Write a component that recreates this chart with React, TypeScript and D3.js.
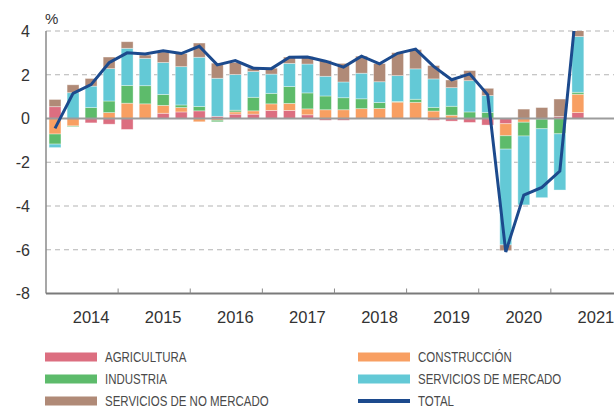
import React from "react";
import * as d3 from "d3";

const quarters = [
  "2014Q1","2014Q2","2014Q3","2014Q4",
  "2015Q1","2015Q2","2015Q3","2015Q4",
  "2016Q1","2016Q2","2016Q3","2016Q4",
  "2017Q1","2017Q2","2017Q3","2017Q4",
  "2018Q1","2018Q2","2018Q3","2018Q4",
  "2019Q1","2019Q2","2019Q3","2019Q4",
  "2020Q1","2020Q2","2020Q3","2020Q4",
  "2021Q1","2021Q2",
];
const axisQuarters = [...quarters, "2021Q3", "2021Q4"];
const years = ["2014","2015","2016","2017","2018","2019","2020","2021"];
const yTicks = [4, 2, 0, -2, -4, -6, -8];

const agricultura = [0.54,0,-0.2,-0.26,-0.5,0,0.24,0.3,0.35,0.1,0.2,0.2,0.37,0.37,0.17,-0.08,-0.08,0,0,0,0,-0.08,-0.12,-0.18,-0.3,-0.24,0,0,0.09,0.27];
const construccion = [-0.71,-0.34,0,0.27,0.7,0.67,0.36,0.2,-0.15,-0.08,0.1,0.15,0.3,0.32,0.27,0.4,0.4,0.45,0.46,0.75,0.74,0.34,0.15,0,0,-0.55,-0.17,-0.03,0,0.84];
const industria = [-0.46,-0.03,0.5,0.53,0.81,0.83,0.5,0.12,0.2,-0.07,0.08,0.62,0.48,0.77,0.73,0.63,0.55,0.45,0.27,0.03,0.14,0.17,0.41,0.3,0.28,-0.61,-0.63,-0.44,-0.7,0.09];
const serviciosMercado = [-0.16,1.18,0.98,1.48,1.7,1.25,1.46,1.75,2.25,1.74,1.63,1.18,0.88,1.06,1.32,0.9,0.72,1.17,0.95,1.18,1.39,1.3,0.85,1.43,0.77,-4.38,-3.15,-3.15,-2.57,2.55];
const serviciosNoMercado = [0.33,0.36,0.35,0.53,0.3,0.15,0.48,0.6,0.65,0.69,0.55,0.15,0.27,0.29,0.34,0.72,0.85,0.78,0.83,1.05,0.88,0.61,0.35,0.46,0.33,-0.26,0.43,0.5,0.8,2.0];
const total = [-0.45,1.15,1.55,2.55,3.0,2.95,3.1,2.97,3.3,2.45,2.65,2.3,2.28,2.8,2.81,2.62,2.35,2.85,2.5,2.98,3.17,2.38,1.77,2.04,1.08,-6.1,-3.5,-3.15,-2.4,5.8];

const seriesKeys = ["agricultura","construccion","industria","serviciosMercado","serviciosNoMercado"];
const seriesArrays: Record<string, number[]> = { agricultura, construccion, industria, serviciosMercado, serviciosNoMercado };
const colors: Record<string, string> = {
  agricultura: "#DC6E80",
  construccion: "#F89F62",
  industria: "#5DBB6B",
  serviciosMercado: "#63C9D6",
  serviciosNoMercado: "#B08A77",
};
const totalColor = "#1C4A8D";

const legendItems = [
  { label: "AGRICULTURA", color: colors.agricultura, col: 0, row: 0, line: false },
  { label: "CONSTRUCCIÓN", color: colors.construccion, col: 1, row: 0, line: false },
  { label: "INDUSTRIA", color: colors.industria, col: 0, row: 1, line: false },
  { label: "SERVICIOS DE MERCADO", color: colors.serviciosMercado, col: 1, row: 1, line: false },
  { label: "SERVICIOS DE NO MERCADO", color: colors.serviciosNoMercado, col: 0, row: 2, line: false },
  { label: "TOTAL", color: totalColor, col: 1, row: 2, line: true },
];

export default function App() {
  const W = 614, H = 409;
  const left = 46, top = 31, bottom = 293.5, right = 614;
  const step = 18.03;
  const x = d3.scaleBand<string>()
    .domain(axisQuarters)
    .range([left, left + step * axisQuarters.length])
    .paddingInner(0.34)
    .paddingOuter(0.17);
  const y = d3.scaleLinear().domain([-8, 4]).range([bottom, top]);

  const table = quarters.map((q, i) => {
    const row: any = { q };
    seriesKeys.forEach((k) => (row[k] = seriesArrays[k][i]));
    return row;
  });
  const stacked = d3.stack<any>().keys(seriesKeys).offset(d3.stackOffsetDiverging)(table);

  const line = d3.line<number>()
    .x((_, i) => (x(quarters[i]) as number) + x.bandwidth() / 2)
    .y((d) => y(d));

  const font = "'Liberation Sans', Arial, sans-serif";
  const yearStarts = years.map((yr) => x(yr + "Q1") as number - (x.step() * x.paddingInner()) / 2);

  return (
    <svg width={W} height={H} style={{ position: "absolute", left: 0, top: 0, background: "#fff" }} fontFamily={font}>
      <defs>
        <clipPath id="plotClip">
          <rect x={left} y={top} width={right - left} height={bottom - top} />
        </clipPath>
      </defs>
      {/* grid */}
      {yTicks.filter((t) => t !== 0 && t !== -8).map((t) => (
        <line key={t} x1={left} x2={right} y1={y(t)} y2={y(t)} stroke="#b3b3b3" strokeWidth={1} strokeDasharray="5,4" />
      ))}
      {/* bars */}
      <g clipPath="url(#plotClip)">
        {stacked.map((s) => (
          <g key={s.key} fill={colors[s.key]}>
            {s.map((d, i) => {
              const y0 = y(d[0]), y1 = y(d[1]);
              const h = Math.abs(y0 - y1);
              if (h < 0.01) return null;
              return (
                <rect key={i} x={x(quarters[i])} width={x.bandwidth()} y={Math.min(y0, y1)} height={h}
                  stroke="#ffffff" strokeOpacity={0.45} strokeWidth={0.8} />
              );
            })}
          </g>
        ))}
      </g>
      {/* zero line */}
      <line x1={left} x2={right} y1={y(0)} y2={y(0)} stroke="#9c9c9c" strokeWidth={2.2} />
      {/* total line */}
      <g clipPath="url(#plotClip)">
        <path d={line(total) || ""} fill="none" stroke={totalColor} strokeWidth={3} strokeLinejoin="miter" />
      </g>
      {/* axes */}
      <line x1={left} x2={left} y1={top} y2={bottom} stroke="#8a8a8a" strokeWidth={1.5} />
      <line x1={left} x2={right} y1={bottom} y2={bottom} stroke="#7a7a7a" strokeWidth={2} />
      {yearStarts.slice(1).map((xs, i) => (
        <line key={i} x1={xs} x2={xs} y1={bottom} y2={bottom - 5} stroke="#8a8a8a" strokeWidth={1} />
      ))}
      {/* y labels */}
      {yTicks.map((t) => (
        <text key={t} x={30} y={y(t)} dy="0.36em" textAnchor="end" fontSize={16} fill="#333">{t}</text>
      ))}
      <text x={45} y={23.5} fontSize={15} fill="#333">%</text>
      {/* x labels */}
      {years.map((yr) => (
        <text key={yr} x={(x(yr + "Q3") as number) + x.bandwidth() / 2} y={323} textAnchor="middle" fontSize={16.5} fill="#333">{yr}</text>
      ))}
      {/* legend */}
      {legendItems.map((it) => {
        const sx = it.col === 0 ? 45 : 358;
        const cy = 357 + it.row * 22;
        const sh = it.line ? 4 : 9;
        return (
          <g key={it.label}>
            <rect x={sx} y={cy - sh / 2} width={52} height={sh} fill={it.color} />
            <text transform={`translate(${sx + 60},${cy}) scale(0.82,1)`} dy="0.36em" fontSize={14} fill="#4a4a4a">{it.label}</text>
          </g>
        );
      })}
    </svg>
  );
}
